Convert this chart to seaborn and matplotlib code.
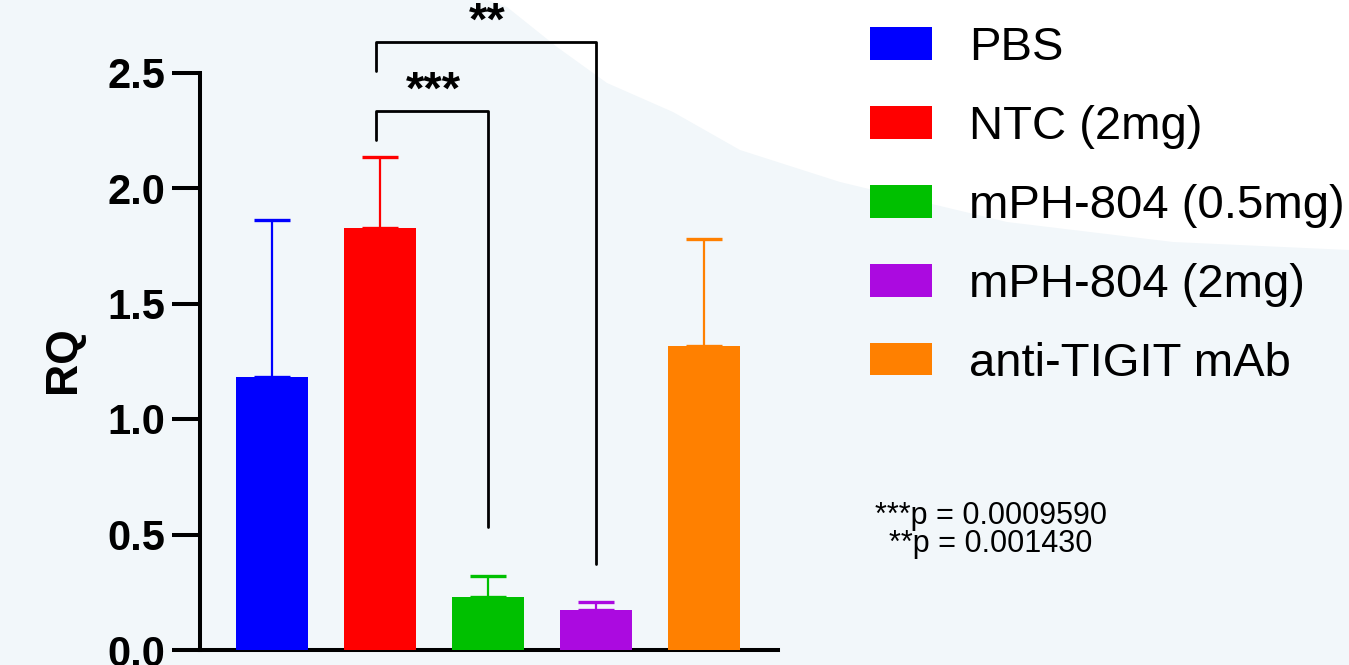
import matplotlib
matplotlib.use("Agg")
import matplotlib.pyplot as plt
from matplotlib.patches import Patch, Polygon
import numpy as np
import pandas as pd
import seaborn as sns

# dati
groups = ["PBS", "NTC (2mg)", "mPH-804 (0.5mg)", "mPH-804 (2mg)", "anti-TIGIT mAb"]
rq_mean = [1.182, 1.827, 0.229, 0.173, 1.316]
rq_sd = [0.679, 0.307, 0.091, 0.035, 0.463]
colors = ["#0000ff", "#ff0000", "#00c000", "#ab0ae0", "#ff8000"]
yticks = [0.0, 0.5, 1.0, 1.5, 2.0, 2.5]
pvalue_text = "***p = 0.0009590\n**p = 0.001430"

# confronti: (gruppo a, gruppo b, simbolo)
comparisons = [(1, 2, "***"), (1, 3, "**")]

sns.set_style("white")
plt.rcParams["font.family"] = ["Liberation Sans", "DejaVu Sans"]
plt.rcParams["text.color"] = "black"
plt.rcParams["axes.labelcolor"] = "black"
plt.rcParams["ytick.color"] = "black"

df = pd.DataFrame({"group": groups, "RQ": rq_mean})

fig = plt.figure(figsize=(13.49, 6.65), dpi=100)
fig.patch.set_facecolor("#f2f7fa")

# zona bianca in alto a destra dello sfondo
bg = [(488, 0), (507, 7), (557, 47), (607, 83), (673, 112), (740, 150),
      (840, 182), (1007, 222), (1173, 242), (1349, 250), (1349, 0)]
fig.add_artist(Polygon([(x / 1349, 1 - y / 665) for x, y in bg], closed=True,
                       facecolor="white", edgecolor="none",
                       transform=fig.transFigure, zorder=-5))

ax = fig.add_axes([200 / 1349, 0, 578 / 1349, 1])
ax.patch.set_visible(False)

sns.barplot(data=df, x="group", y="RQ", hue="group", palette=colors,
            errorbar=None, width=0.667, dodge=False, legend=False,
            saturation=1, linewidth=0, ax=ax, zorder=3)

for i, (m, s) in enumerate(zip(rq_mean, rq_sd)):
    ax.errorbar(i, m, yerr=[[0], [s]], fmt="none", ecolor=colors[i],
                elinewidth=1.6, capsize=13.3, capthick=2.4, zorder=2)

ax.set_xlim(-0.667, 4.685)
ax.set_ylim(-15 / 231, 650 / 231)

# parentesi di significativita
bracket_top = {"***": 2.334, "**": 2.632}
star_pos = {"***": (1.49, 2.415), "**": (1.99, 2.715)}
right_end = {"***": 0.532, "**": 0.372}
for a, b, sym in comparisons:
    top = bracket_top[sym]
    xa = a - 0.04
    ax.plot([xa, xa, b, b], [top - 0.126, top, top, right_end[sym]],
            color="black", lw=2.0, clip_on=False, zorder=4)
    sx, sy = star_pos[sym]
    ax.text(sx, sy, sym, ha="center", va="center", fontsize=34,
            fontweight="bold", color="black")

for side in ["top", "right"]:
    ax.spines[side].set_visible(False)
for side in ["left", "bottom"]:
    ax.spines[side].set_linewidth(2.9)
    ax.spines[side].set_color("black")
ax.spines["left"].set_bounds(0, 2.5)
ax.spines["bottom"].set_position(("data", 0))

ax.set_yticks(yticks)
ax.set_yticklabels([f"{t:.1f}" for t in yticks], fontsize=30, fontweight="bold")
ax.tick_params(axis="y", length=20, width=2.9, pad=5, left=True, colors="black")
ax.set_xticks([])
ax.set_xlabel("")
ax.set_ylabel("RQ", fontsize=32, fontweight="bold")
ax.yaxis.set_label_coords((84 - 200) / 578, (665 - 360) / 665)

handles = [Patch(facecolor=c, edgecolor="none") for c in colors]
fig.legend(handles, groups, loc="upper left",
           bbox_to_anchor=(870 / 1349, 1 - 26 / 665), frameon=False,
           fontsize=34, handlelength=1.32, handleheight=0.68,
           handletextpad=0.77, labelspacing=0.74, borderpad=0,
           borderaxespad=0)

fig.text(991 / 1349, 1 - 530 / 665, pvalue_text, ha="center", va="center",
         multialignment="center", fontsize=22, linespacing=0.88)

plt.savefig("out.png", dpi=100, facecolor=fig.get_facecolor())
